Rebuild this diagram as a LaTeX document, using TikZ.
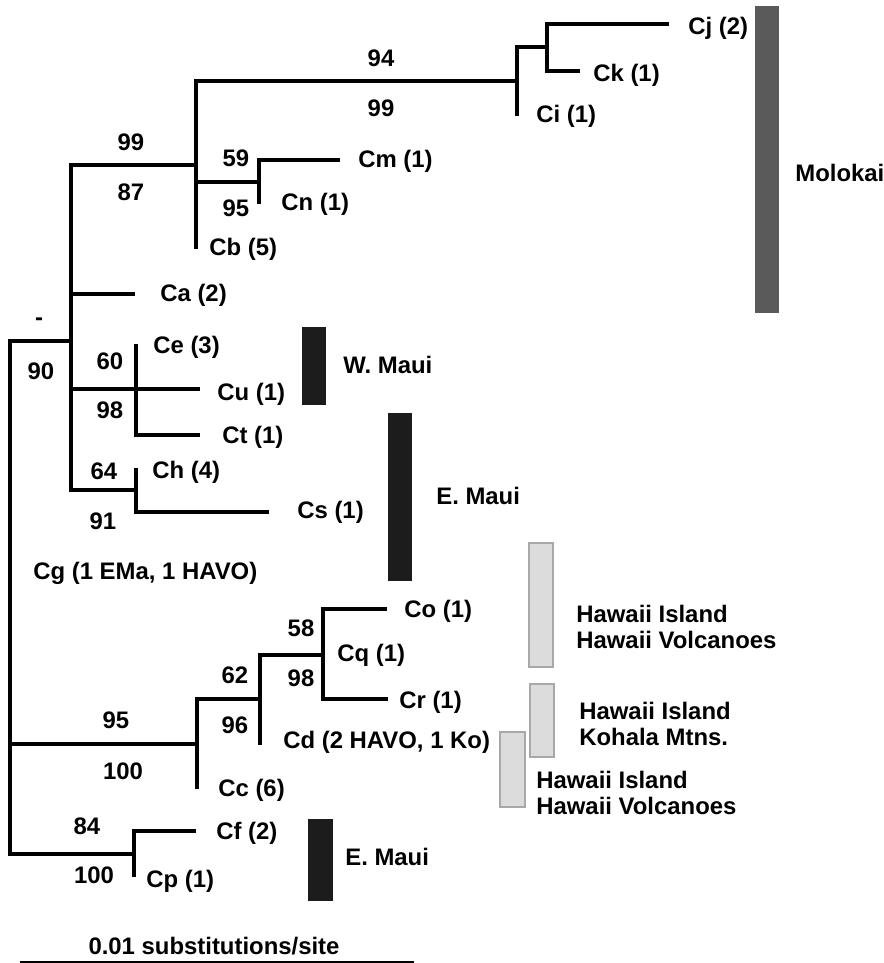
\documentclass[tikz,border=0pt]{standalone}
\usepackage{fontspec}
\setmainfont{Liberation Sans}
\usepackage{xcolor}
\usepackage{tikz}
\definecolor{molokaigray}{HTML}{5A5A5A}
\definecolor{mauiblack}{HTML}{1C1C1C}
\definecolor{hawaiifill}{HTML}{DCDCDC}
\definecolor{hawaiiedge}{HTML}{A8A8A8}
\tikzset{
  branch/.style={line width=1.8pt},
  taxon/.style={anchor=west, inner sep=0pt, font=\fontsize{13.6}{15}\selectfont\bfseries},
  boot/.style={inner sep=0pt, font=\fontsize{13.6}{15}\selectfont\bfseries},
  region/.style={anchor=west, inner sep=0pt, align=left, font=\fontsize{13.6}{14.8}\selectfont\bfseries},
  darkbar/.style={fill=molokaigray},
  blackbar/.style={fill=mauiblack},
  greybar/.style={fill=hawaiifill, draw=hawaiiedge, line width=0.6pt}
}

\begin{document}
\begin{tikzpicture}[x=0.02cm, y=-0.02cm]
  \useasboundingbox (0,0) rectangle (883,963);
  % inner nodes of the tree
  \coordinate (root) at (10,744);
  \coordinate (nB) at (71,341);
  \coordinate (nA) at (196,165);
  \coordinate (nMol) at (517,81);
  \coordinate (nCjk) at (547,47);
  \coordinate (nCmn) at (259,182);
  \coordinate (nCeu) at (136,389);
  \coordinate (nChs) at (136,490);
  \coordinate (nHaw) at (197,744);
  \coordinate (nCd) at (260,699);
  \coordinate (nCoq) at (323,655);
  \coordinate (nCfp) at (134,854);
  % tips
  \coordinate (tCj) at (669,24);
  \coordinate (tCk) at (580,71);
  \coordinate (tCi) at (517,116);
  \coordinate (tCm) at (340,160);
  \coordinate (tCn) at (259,204);
  \coordinate (tCb) at (196,249);
  \coordinate (tCa) at (135,294);
  \coordinate (tCe) at (136,344);
  \coordinate (tCu) at (200,389);
  \coordinate (tCt) at (200,435);
  \coordinate (tCh) at (136,468);
  \coordinate (tCs) at (269,512);
  \coordinate (tCg) at (10,572);
  \coordinate (tCo) at (387,609);
  \coordinate (tCq) at (323,655);
  \coordinate (tCr) at (388,699);
  \coordinate (tCd) at (260,745);
  \coordinate (tCc) at (197,789);
  \coordinate (tCf) at (196,831);
  \coordinate (tCp) at (134,877);

  % branches
  \draw[branch] (root) |- (nB) (root) |- (tCg) (root) |- (nHaw) (root) |- (nCfp);
  \draw[branch] (nB) |- (nA) (nB) |- (tCa) (nB) |- (nCeu) (nB) |- (nChs);
  \draw[branch] (nA) |- (nMol) (nA) |- (nCmn) (nA) |- (tCb);
  \draw[branch] (nMol) |- (nCjk) (nMol) |- (tCi);
  \draw[branch] (nCjk) |- (tCj) (nCjk) |- (tCk);
  \draw[branch] (nCmn) |- (tCm) (nCmn) |- (tCn);
  \draw[branch] (nCeu) |- (tCe) (nCeu) |- (tCu) (nCeu) |- (tCt);
  \draw[branch] (nChs) |- (tCh) (nChs) |- (tCs);
  \draw[branch] (nHaw) |- (nCd) (nHaw) |- (tCc);
  \draw[branch] (nCd) |- (nCoq) (nCd) |- (tCd);
  \draw[branch] (nCoq) |- (tCo) (nCoq) |- (tCq) (nCoq) |- (tCr);
  \draw[branch] (nCfp) |- (tCf) (nCfp) |- (tCp);

  % taxon labels
  \node[taxon] (lCj) at (688,28) {Cj (2)};
  \node[taxon] (lCk) at (593,75) {Ck (1)};
  \node[taxon] (lCi) at (536,116) {Ci (1)};
  \node[taxon] (lCm) at (358,161) {Cm (1)};
  \node[taxon] (lCn) at (281,204) {Cn (1)};
  \node[taxon] (lCb) at (209,249) {Cb (5)};
  \node[taxon] (lCa) at (160,295) {Ca (2)};
  \node[taxon] (lCe) at (153,347) {Ce (3)};
  \node[taxon] (lCu) at (217,394) {Cu (1)};
  \node[taxon] (lCt) at (222,437) {Ct (1)};
  \node[taxon] (lCh) at (152,472) {Ch (4)};
  \node[taxon] (lCs) at (297,512) {Cs (1)};
  \node[taxon] (lCg) at (33,573) {Cg (1 EMa, 1 HAVO)};
  \node[taxon] (lCo) at (404,611) {Co (1)};
  \node[taxon] (lCq) at (337,655) {Cq (1)};
  \node[taxon] (lCr) at (399,702) {Cr (1)};
  \node[taxon] (lCd) at (283,742) {Cd (2 HAVO, 1 Ko)};
  \node[taxon] (lCc) at (218,790) {Cc (6)};
  \node[taxon] (lCf) at (216,833) {Cf (2)};
  \node[taxon] (lCp) at (146,881) {Cp (1)};

  % support values, above and below each branch
  \node[boot] (bMolUp) at (381,58) {94};
  \node[boot] (bMolLo) at (381,108) {99};
  \node[boot] (bAUp) at (131,142) {99};
  \node[boot] (bALo) at (131,192) {87};
  \node[boot] (bCmnUp) at (236,158) {59};
  \node[boot] (bCmnLo) at (236,208) {95};
  \node[boot] (bBUp) at (39,322) {-};
  \node[boot] (bBLo) at (41,371) {90};
  \node[boot] (bCeuUp) at (110,361) {60};
  \node[boot] (bCeuLo) at (110,410) {98};
  \node[boot] (bChsUp) at (104,471) {64};
  \node[boot] (bChsLo) at (103,521) {91};
  \node[boot] (bCoqUp) at (301,628) {58};
  \node[boot] (bCoqLo) at (301,678) {98};
  \node[boot] (bCdUp) at (235,675) {62};
  \node[boot] (bCdLo) at (235,725) {96};
  \node[boot] (bHawUp) at (116,720) {95};
  \node[boot] (bHawLo) at (123,771) {100};
  \node[boot] (bCfpUp) at (87,826) {84};
  \node[boot] (bCfpLo) at (94,875) {100};

  % island bars
  \fill[darkbar] (755,6) rectangle (779,313);
  \node[region] (rMol) at (795,173) {Molokai};
  \fill[blackbar] (302,327) rectangle (326,405);
  \node[region] (rWMaui) at (343,365) {W. Maui};
  \fill[blackbar] (388,413) rectangle (412,581);
  \node[region] (rEMaui) at (436,496) {E. Maui};
  \draw[greybar] (529,543) rectangle (553,667);
  \node[region] (rHavoA) at (576,627) {Hawaii Island\\Hawaii Volcanoes};
  \draw[greybar] (530,684) rectangle (554,757);
  \node[region] (rKoh) at (579,724) {Hawaii Island\\Kohala Mtns.};
  \draw[greybar] (500,732) rectangle (525,807);
  \node[region] (rHavoB) at (536,793) {Hawaii Island\\Hawaii Volcanoes};
  \fill[blackbar] (308,819) rectangle (333,901);
  \node[region] (rEMauiB) at (345,857) {E. Maui};

  % scale bar
  \node[boot] (scale) at (214,946) {0.01 substitutions/site};
  \coordinate (sbL) at (20,962);
  \coordinate (sbR) at (414,962);
  \draw[line width=0.8pt] (sbL) -- (sbR);
\end{tikzpicture}
\end{document}
